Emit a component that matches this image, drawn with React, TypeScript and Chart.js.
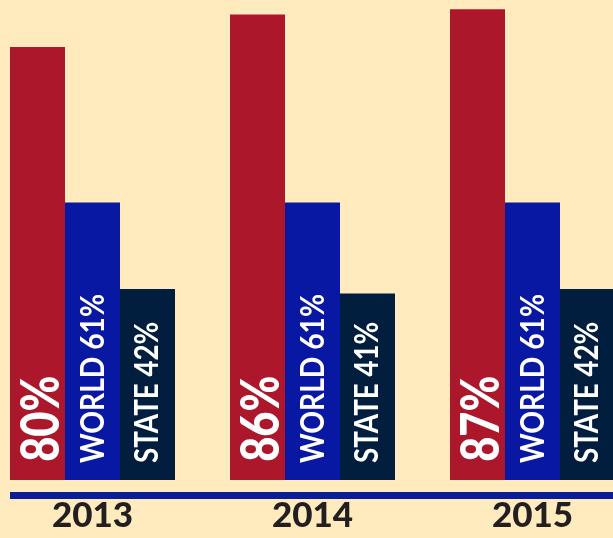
import React, { useEffect, useRef } from 'react';
import { Chart, registerables } from 'chart.js';

Chart.register(...registerables);

// ---- data ----
const years = ['2013', '2014', '2015'];
const schoolValues = [80, 86, 87];
const worldValues = [61, 61, 61];
const stateValues = [42, 41, 42];
const worldName = 'WORLD';
const stateName = 'STATE';

const BG = '#FFEBBD';
const RED = '#AD172C';
const BLUE = '#0818A2';
const NAVY = '#011E3F';
const LINE = '#0A1E9A';

export default function App() {
  const ref = useRef<HTMLCanvasElement>(null);

  useEffect(() => {
    document.body.style.margin = '0';
    document.body.style.background = BG;
    if (!ref.current) return;

    const labelStyle = [
      { prefix: '', capH: 39, len: 84, dx: 2, pad: 19, weight: '900' },
      { prefix: worldName + ' ', capH: 23, len: 168, dx: 0, pad: 17, weight: 'bold' },
      { prefix: stateName + ' ', capH: 24, len: 141, dx: -2, pad: 17, weight: 'bold' },
    ];

    const barLabels = {
      id: 'barLabels',
      afterDatasetsDraw(chart: any) {
        const ctx = chart.ctx;
        chart.data.datasets.forEach((ds: any, di: number) => {
          const meta = chart.getDatasetMeta(di);
          const st = labelStyle[di];
          meta.data.forEach((bar: any, i: number) => {
            const text = st.prefix + ds.data[i] + '%';
            const size = st.capH / 0.72;
            ctx.save();
            ctx.font = `${st.weight} ${size}px Lato`;
            const m = ctx.measureText(text);
            const w = m.actualBoundingBoxLeft + m.actualBoundingBoxRight;
            const sx = st.len / w;
            ctx.translate(bar.x + st.dx, bar.base - st.pad);
            ctx.rotate(-Math.PI / 2);
            ctx.scale(sx, 1);
            ctx.fillStyle = '#FFFFFF';
            ctx.textAlign = 'left';
            ctx.textBaseline = 'alphabetic';
            ctx.fillText(text, m.actualBoundingBoxLeft, st.capH / 2);
            ctx.restore();
          });
        });
      },
    };

    const axisLine = {
      id: 'axisLine',
      afterDraw(chart: any) {
        const ctx = chart.ctx;
        const meta = chart.getDatasetMeta(0);
        const first = meta.data[0];
        const left = first.x - first.width / 2;
        const y = chart.chartArea.bottom + 12;
        ctx.save();
        ctx.fillStyle = LINE;
        ctx.fillRect(left, y, chart.width - left, 7);
        ctx.restore();
      },
    };

    const chart = new Chart(ref.current, {
      type: 'bar',
      data: {
        labels: years,
        datasets: [
          { data: schoolValues, backgroundColor: RED, yAxisID: 'y1', clip: false } as any,
          { data: worldValues, backgroundColor: BLUE, yAxisID: 'y', clip: false } as any,
          { data: stateValues, backgroundColor: NAVY, yAxisID: 'y', clip: false } as any,
        ],
      },
      options: {
        animation: false,
        responsive: false,
        layout: { padding: { left: 92.5, right: 80.5, top: 0, bottom: 0 } },
        datasets: { bar: { categoryPercentage: 0.75, barPercentage: 1 } } as any,
        plugins: { legend: { display: false }, tooltip: { enabled: false } },
        scales: {
          x: {
            offset: false,
            grid: { display: false, drawTicks: false },
            border: { display: false },
            ticks: {
              font: { family: 'Lato', size: 35, weight: '900' },
              color: '#231F20',
              padding: 15,
              maxRotation: 0,
              autoSkip: false,
            },
            afterFit: (s: any) => {
              s.height = 58;
            },
          },
          y: { display: false, min: 0, max: 105.5 },
          y1: { display: false, min: 0, max: 88.7 },
        },
      },
      plugins: [barLabels, axisLine],
    });

    return () => chart.destroy();
  }, []);

  return (
    <div style={{ position: 'absolute', left: 0, top: 0, width: 613, height: 538, background: BG, overflow: 'hidden' }}>
      <canvas ref={ref} width={613} height={538} style={{ display: 'block' }} />
    </div>
  );
}
